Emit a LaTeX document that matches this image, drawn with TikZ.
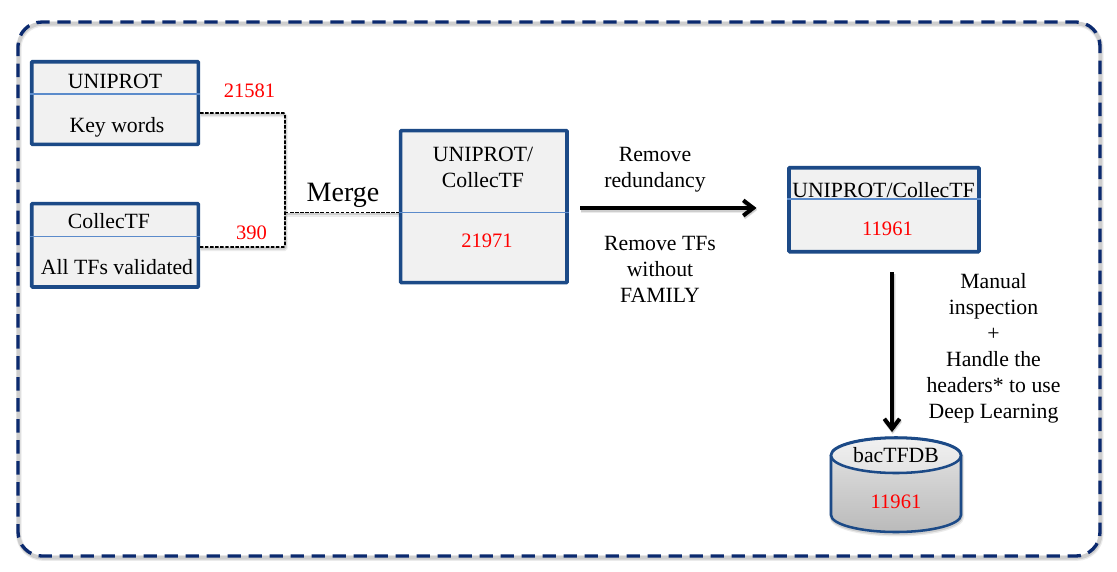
\documentclass[tikz,border=0pt]{standalone}
\usepackage{fontspec}
\setmainfont{Liberation Serif}
\usetikzlibrary{arrows.meta,calc}
\definecolor{navyframe}{HTML}{0B2A6F}
\definecolor{boxblue}{HTML}{1C4A87}
\definecolor{divblue}{HTML}{5B8BCB}
\definecolor{boxfill}{HTML}{F1F1F1}
\tikzset{
  x=0.75pt,y=-0.75pt,
  lbl/.style={inner sep=0pt,font=\fontsize{16.3pt}{19.4pt}\selectfont,align=center,text=black},
  num/.style={inner sep=0pt,font=\fontsize{15.4pt}{18.5pt}\selectfont,text=red},
  flowbox/.style={draw=boxblue,line width=2.7pt,fill=boxfill,inner sep=0pt,rounded corners=0.6pt},
  divider/.style={draw=divblue,line width=0.9pt},
  shadowed/.style={preaction={draw=black,opacity=.08,line width=#1+1.6pt,transform canvas={xshift=.6pt,yshift=-1.6pt}},
                   preaction={draw=black,opacity=.12,line width=#1+.4pt,transform canvas={xshift=.4pt,yshift=-1.2pt}}},
  frameline/.style={draw=navyframe,line width=2.5pt,dash pattern=on 10pt off 5.75pt,rounded corners=18pt,shadowed=2.5pt},
  mergeline/.style={draw=black,line width=1.3pt,dash pattern=on 2.6pt off 1.2pt,rounded corners=1pt,shadowed=1.3pt},
  flowarrow/.style={draw=black,line width=3pt,-{Straight Barb[length=7.5pt,width=11.5pt,line width=3pt]},shadowed=3pt},
}
\begin{document}
\begin{tikzpicture}
\useasboundingbox (0,0) rectangle (1117,571);
\fill[white] (0,0) rectangle (1117,571);
% frame
\draw[frameline] (18,290) -- (18,22) -- (1100,22) -- (1100,556) -- (18,556) -- cycle;
% boxes
\node[flowbox,minimum width={166.6*.75pt},minimum height={82.6*.75pt}] (uni) at (115,103) {};
\node[flowbox,minimum width={166.6*.75pt},minimum height={83.3*.75pt}] (col) at (115,245.3) {};
\node[flowbox,minimum width={166.3*.75pt},minimum height={151.9*.75pt}] (ctr) at (483.8,206.6) {};
\node[flowbox,minimum width={190*.75pt},minimum height={84*.75pt}] (res) at (884,209.7) {};
% dividers
\draw[divider] (uni.west |- 0,94) -- (uni.east |- 0,94);
\draw[divider] (col.west |- 0,236.7) -- (col.east |- 0,236.7);
\draw[divider] (ctr.west |- 0,212.7) -- (ctr.east |- 0,212.7);
\draw[divider] (res.west |- 0,199) -- (res.east |- 0,199);
% database
\path[draw=boxblue,line width=1.9pt,top color=black!10,bottom color=black!27,shadowed=1.9pt]
  (831,455) -- (831,515) arc[start angle=180,end angle=0,x radius=65,y radius=17] -- (961,455)
  arc[start angle=0,end angle=-180,x radius=65,y radius=17.5] -- cycle;
\path[draw=boxblue,line width=1.9pt,top color=boxfill,bottom color=black!11]
  (896,455.5) ellipse[x radius=65,y radius=17.5];
\node[inner sep=0pt,minimum width={132*.75pt},minimum height={95*.75pt}] (db) at (896,484.5) {};
% connectors
\coordinate (jA) at (285,113);
\coordinate (jB) at (285,247);
\coordinate (jM) at (285,212.5);
\coordinate (resOut) at ($(res.south)+(8,0)$);
\draw[mergeline] (uni.east |- jA) -- (jA) -- (jB) -- (col.east |- jB);
\draw[mergeline] (jM) -- (ctr.west |- jM);
\draw[flowarrow,shorten <=8.5pt,shorten >=23pt] ($(ctr.east)+(0,1.4)$) -- ($(ctr.east -| res.west)+(0,1.4)$);
\draw[flowarrow,shorten <=14pt,shorten >=3.5pt] (resOut) -- (resOut |- db.north);
% labels
\node[lbl] (t1) at (115,81.5) {UNIPROT};
\node[lbl] (t2) at (117,127) {Key words};
\node[lbl] (t3) at (109,221) {CollecTF};
\node[lbl] (t4) at (117,267) {All TFs validated};
\node[lbl] (t5) at (483,167) {UNIPROT/\\CollecTF};
\node[lbl] (t6) at (883.5,190) {UNIPROT/CollecTF};
\node[lbl] (t7) at (896,455) {bacTFDB};
\node[num] (n1) at (249.5,91) {21581};
\node[num] (n2) at (251.5,232.5) {390};
\node[num] (n3) at (487,241) {21971};
\node[num] (n4) at (887.5,229) {11961};
\node[num] (n5) at (896,502) {11961};
\node[inner sep=0pt,font=\fontsize{21pt}{25pt}\selectfont] (m) at (343,195.5) {Merge};
\node[lbl] (p1) at (655,170) {Remove\\redundancy};
\node[lbl] (p2) at (660,269.5) {Remove TFs\\without\\FAMILY};
\node[lbl,font=\fontsize{16.3pt}{19.5pt}\selectfont] (p3) at (993.5,348.5) {Manual\\inspection\\+\\Handle the\\headers* to use\\Deep Learning};
\end{tikzpicture}
\end{document}
